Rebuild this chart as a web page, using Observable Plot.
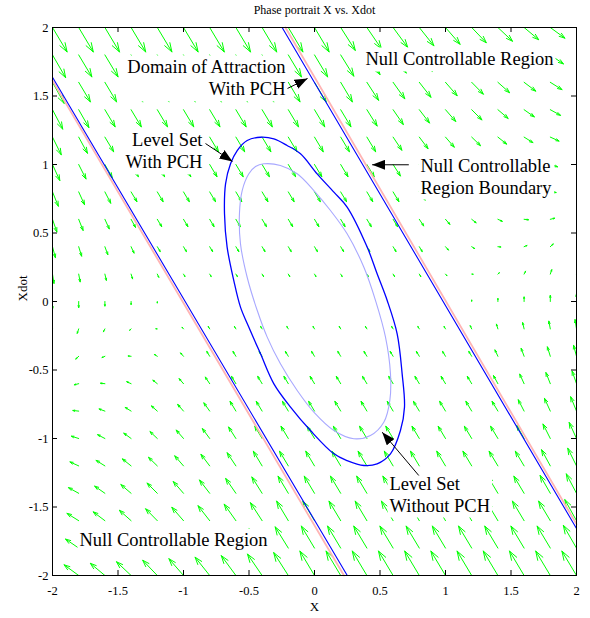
<!DOCTYPE html>
<html>
<head>
<meta charset="utf-8">
<script src="https://cdn.jsdelivr.net/npm/d3@7"></script>
<script src="https://cdn.jsdelivr.net/npm/@observablehq/plot@0.6"></script>
<style>
  html, body { margin: 0; padding: 0; background: #fff; }
  #chart svg { display: block; }
  #chart svg text { font-family: 'Liberation Serif', 'Times New Roman', serif; }
</style>
</head>
<body>
<div id="chart"></div>
<script>
// ---------- data ----------
const titleText = "Phase portrait X vs. Xdot";
const xLabel = "X";
const yLabel = "Xdot";
const axisTicks = [-2, -1.5, -1, -0.5, 0, 0.5, 1, 1.5, 2];

// quiver grid (x positions, Xdot rows from top to bottom)
const gridX = [-2, -1.8, -1.6, -1.4, -1.2, -1, -0.8, -0.6, -0.4, -0.2, 0, 0.2, 0.4, 0.6, 0.8, 1, 1.2, 1.4, 1.6, 1.8, 2];
const gridXdot = [2, 1.8, 1.6, 1.4, 1.2, 1, 0.8, 0.6, 0.4, 0.2, 0, -0.2, -0.4, -0.6, -0.8, -1, -1.2, -1.4, -1.6, -1.8, -2];
// vertical component (Xddot) of each arrow, one row per Xdot value
const xddotRows = [
  [-3.2,-3.2,-3.2,-3.2,-3.2,-3.2,-3.2,-3.2,-3.2,-3.2,-3.2,-3.0,-2.8,-2.6,-2.4,-2.2,-2.0,-1.8,-1.6,-1.4,-1.2],
  [-2.98,-2.88,-2.88,-2.88,-2.88,-2.88,-2.88,-2.88,-2.88,-2.88,-2.88,-2.78,-2.58,-2.38,-2.18,-1.98,-1.78,-1.58,-1.38,-1.18,-0.98],
  [-2.76,-2.56,-2.56,-2.56,-2.56,-2.56,-2.56,-2.56,-2.56,-2.56,-2.56,-2.56,-2.36,-2.16,-1.96,-1.76,-1.56,-1.36,-1.16,-0.96,-0.76],
  [-2.54,-2.34,-2.24,-2.24,-2.24,-2.24,-2.24,-2.24,-2.24,-2.24,-2.24,-2.24,-2.14,-1.94,-1.74,-1.54,-1.34,-1.14,-0.94,-0.74,-0.54],
  [-2.32,-2.12,-1.92,-1.92,-1.92,-1.92,-1.92,-1.92,-1.92,-1.92,-1.92,-1.92,-1.92,-1.72,-1.52,-1.32,-1.12,-0.92,-0.72,-0.52,-0.32],
  [-2.1,-1.9,-1.7,-1.6,-1.6,-1.6,-1.6,-1.6,-1.6,-1.6,-1.6,-1.6,-1.6,-1.5,-1.3,-1.1,-0.9,-0.7,-0.5,-0.3,-0.1],
  [-1.88,-1.68,-1.48,-1.28,-1.28,-1.28,-1.28,-1.28,-1.28,-1.28,-1.28,-1.28,-1.28,-1.28,-1.08,-0.88,-0.68,-0.48,-0.28,-0.08,0.12],
  [-1.66,-1.46,-1.26,-1.06,-0.96,-0.96,-0.96,-0.96,-0.96,-0.96,-0.96,-0.96,-0.96,-0.96,-0.86,-0.66,-0.46,-0.26,-0.06,0.14,0.34],
  [-1.44,-1.24,-1.04,-0.84,-0.64,-0.64,-0.64,-0.64,-0.64,-0.64,-0.64,-0.64,-0.64,-0.64,-0.64,-0.44,-0.24,-0.04,0.16,0.36,0.56],
  [-1.22,-1.02,-0.82,-0.62,-0.42,-0.32,-0.32,-0.32,-0.32,-0.32,-0.32,-0.32,-0.32,-0.32,-0.32,-0.22,-0.02,0.18,0.38,0.58,0.78],
  [-1,-0.8,-0.6,-0.4,-0.2,0,0,0,0,0,0,0,0,0,0,0,0.2,0.4,0.6,0.8,1],
  [-0.78,-0.58,-0.38,-0.18,0.02,0.22,0.32,0.32,0.32,0.32,0.32,0.32,0.32,0.32,0.32,0.32,0.42,0.62,0.82,1.02,1.22],
  [-0.56,-0.36,-0.16,0.04,0.24,0.44,0.64,0.64,0.64,0.64,0.64,0.64,0.64,0.64,0.64,0.64,0.64,0.84,1.04,1.24,1.44],
  [-0.34,-0.14,0.06,0.26,0.46,0.66,0.86,0.96,0.96,0.96,0.96,0.96,0.96,0.96,0.96,0.96,0.96,1.06,1.26,1.46,1.66],
  [-0.12,0.08,0.28,0.48,0.68,0.88,1.08,1.28,1.28,1.28,1.28,1.28,1.28,1.28,1.28,1.28,1.28,1.28,1.48,1.68,1.88],
  [0.1,0.3,0.5,0.7,0.9,1.1,1.3,1.5,1.6,1.6,1.6,1.6,1.6,1.6,1.6,1.6,1.6,1.6,1.7,1.9,2.1],
  [0.32,0.52,0.72,0.92,1.12,1.32,1.52,1.72,1.92,1.92,1.92,1.92,1.92,1.92,1.92,1.92,1.92,1.92,1.92,2.12,2.32],
  [0.54,0.74,0.94,1.14,1.34,1.54,1.74,1.94,2.14,2.24,2.24,2.24,2.24,2.24,2.24,2.24,2.24,2.24,2.24,2.34,2.54],
  [0.76,0.96,1.16,1.36,1.56,1.76,1.96,2.16,2.36,2.56,2.56,2.56,2.56,2.56,2.56,2.56,2.56,2.56,2.56,2.56,2.76],
  [0.98,1.18,1.38,1.58,1.78,1.98,2.18,2.38,2.58,2.78,2.88,2.88,2.88,2.88,2.88,2.88,2.88,2.88,2.88,2.88,2.98],
  [1.2,1.4,1.6,1.8,2.0,2.2,2.4,2.6,2.8,3.0,3.2,3.2,3.2,3.2,3.2,3.2,3.2,3.2,3.2,3.2,3.2]
];
const quiverScale = 0.0557; // quiver auto-scale factor

// null controllable region boundaries
const upperBoundX = [-0.247, 2];
const upperBoundY = [2, -1.657];
const lowerBoundX = [-2, 0.25];
const lowerBoundY = [1.637, -2];
const upperRefX = [-0.222, 2];
const upperRefY = [2, -1.625];
const lowerRefX = [-2, 0.225];
const lowerRefY = [1.612, -2];

// level set with PCH (outer)
const outerX = [-0.412,-0.310,-0.209,-0.107,0.020,0.148,0.249,0.402,0.478,0.555,0.631,0.669,0.687,0.656,0.580,0.478,0.377,0.249,0.148,-0.031,-0.183,-0.310,-0.412,-0.501,-0.565,-0.616,-0.667,-0.687,-0.679,-0.641,-0.590,-0.514];
const outerY = [1.199,1.187,1.139,1.078,0.932,0.798,0.689,0.397,0.202,0.007,-0.236,-0.528,-0.771,-0.942,-1.112,-1.185,-1.197,-1.161,-1.112,-0.942,-0.771,-0.601,-0.382,-0.188,-0.041,0.153,0.397,0.640,0.859,1.005,1.102,1.175];
// level set without PCH (inner)
const innerX = [-0.387,-0.260,-0.132,-0.005,0.122,0.249,0.377,0.466,0.542,0.580,0.575,0.529,0.427,0.300,0.148,-0.005,-0.132,-0.260,-0.361,-0.437,-0.514,-0.565,-0.573,-0.552,-0.501,-0.450];
const innerY = [1.005,0.993,0.932,0.810,0.664,0.494,0.250,0.007,-0.260,-0.528,-0.723,-0.881,-0.978,-1.002,-0.942,-0.808,-0.650,-0.455,-0.260,-0.066,0.177,0.421,0.640,0.810,0.932,0.985];

// annotations
const annotText = ["Domain of Attraction\nWith PCH", "Level Set\nWith PCH", "Null Controllable Region", "Null Controllable\nRegion Boundary", "Level Set\nWithout PCH", "Null Controllable Region"];
const annotX = [-0.221, -0.855, 0.389, 0.809, 0.573, -1.794];
const annotY = [1.504, 0.971, 1.723, 0.788, -1.533, -1.788];
const annotAlign = ["end", "end", "start", "start", "start", "start"];
const pointerX1 = [-0.206, -0.832, 0.720, 0.796];
const pointerY1 = [1.555, 1.153, 0.998, -1.270];
const pointerX2 = [-0.053, -0.626, 0.440, 0.517];
const pointerY2 = [1.628, 1.022, 0.998, -0.954];

// ---------- build tables ----------
const quiver = [];
gridXdot.forEach((xd, r) => gridX.forEach((x, c) => {
  const v = xddotRows[r][c];
  quiver.push({x, y: xd, x2: x + quiverScale * xd, y2: xd + quiverScale * v});
}));
const pts = (X, Y) => X.map((x, i) => ({x, y: Y[i]}));
const outer = pts(outerX, outerY);
const inner = pts(innerX, innerY);
const annots = annotText.map((t, i) => ({text: t, x: annotX[i], y: annotY[i], align: annotAlign[i]}));
const pointers = pointerX1.map((x1, i) => ({x1, y1: pointerY1[i], x2: pointerX2[i], y2: pointerY2[i]}));

const W = 590, H = 618;
const mTop = 27, mRight = 14, mBottom = 43, mLeft = 52;
const frameW = W - mLeft - mRight, frameH = H - mTop - mBottom;
const tickLen = 5;
const serif = "'Liberation Serif', 'Times New Roman', serif";

const annotStyle = {x: "x", y: "y", text: "text", fontSize: 18.5, fontFamily: serif, lineAnchor: "bottom", lineHeight: 1.19, fill: "#000"};

const svg = Plot.plot({
  width: W, height: H,
  marginTop: mTop, marginRight: mRight, marginBottom: mBottom, marginLeft: mLeft,
  x: {domain: [-2, 2], label: null},
  y: {domain: [-2, 2], label: null},
  style: {fontFamily: serif, fontSize: "12.5px", background: "#fff", color: "#000", overflow: "visible"},
  marks: [
    Plot.arrow(quiver, {x1: "x", y1: "y", x2: "x2", y2: "y2", stroke: "#00ff00", strokeWidth: 1, headAngle: 37, headLength: 60, clip: true}),
    Plot.line(pts(upperRefX, upperRefY), {x: "x", y: "y", stroke: "#ffb4b4", strokeWidth: 1.8}),
    Plot.line(pts(lowerRefX, lowerRefY), {x: "x", y: "y", stroke: "#ffb4b4", strokeWidth: 1.8}),
    Plot.line(pts(upperBoundX, upperBoundY), {x: "x", y: "y", stroke: "#0000ff", strokeWidth: 1.1}),
    Plot.line(pts(lowerBoundX, lowerBoundY), {x: "x", y: "y", stroke: "#0000ff", strokeWidth: 1.1}),
    Plot.line(inner, {x: "x", y: "y", curve: "catmull-rom-closed", stroke: "#a8a8ff", strokeWidth: 1.1}),
    Plot.line(outer, {x: "x", y: "y", curve: "catmull-rom-closed", stroke: "#0000ff", strokeWidth: 1.3}),
    Plot.frame({stroke: "#000", strokeWidth: 1}),
    Plot.tickX(axisTicks, {x: d => d, insetTop: frameH - tickLen, stroke: "#000"}),
    Plot.tickX(axisTicks, {x: d => d, insetBottom: frameH - tickLen, stroke: "#000"}),
    Plot.tickY(axisTicks, {y: d => d, insetRight: frameW - tickLen, stroke: "#000"}),
    Plot.tickY(axisTicks, {y: d => d, insetLeft: frameW - tickLen, stroke: "#000"}),
    Plot.axisX(axisTicks, {tickSize: 0, tickPadding: 11, tickFormat: d => String(d), fontSize: 12.5, fontFamily: serif, fontVariant: "normal"}),
    Plot.axisY(axisTicks, {tickSize: 0, tickPadding: 4, tickFormat: d => String(d), fontSize: 12.5, fontFamily: serif, fontVariant: "normal"}),
    Plot.text([titleText], {text: d => d, frameAnchor: "top", dy: -14, lineAnchor: "bottom", fontSize: 12, fontFamily: serif}),
    Plot.text([xLabel], {text: d => d, frameAnchor: "bottom", dy: 35, fontSize: 13, fontFamily: serif}),
    Plot.text([yLabel], {text: d => d, frameAnchor: "left", dx: -30, rotate: -90, fontSize: 13, fontFamily: serif}),
    Plot.text(annots.filter(d => d.align === "end"), {...annotStyle, textAnchor: "end"}),
    Plot.text(annots.filter(d => d.align === "start"), {...annotStyle, textAnchor: "start"}),
    Plot.link(pointers, {x1: "x1", y1: "y1", x2: "x2", y2: "y2", stroke: "#000", strokeWidth: 1})
  ]
});
document.getElementById("chart").append(svg);

// white label boxes (like MATLAB text background)
const labelSet = new Set(annotText.map(t => t.replace(/\n/g, "")));
const pad = 2;
svg.querySelectorAll("text").forEach(t => {
  if (!labelSet.has(t.textContent)) return;
  const b = t.getBBox();
  const rect = document.createElementNS("http://www.w3.org/2000/svg", "rect");
  rect.setAttribute("x", b.x - pad);
  rect.setAttribute("y", b.y - pad);
  rect.setAttribute("width", b.width + 2 * pad);
  rect.setAttribute("height", b.height + 2 * pad);
  rect.setAttribute("fill", "#fff");
  rect.setAttribute("stroke", "none");
  const tr = t.getAttribute("transform");
  if (tr) rect.setAttribute("transform", tr);
  t.parentNode.insertBefore(rect, t);
});

// filled arrowheads for annotation pointers
const sel = d3.select(svg);
const defs = sel.insert("defs", ":first-child");
defs.append("marker")
  .attr("id", "annot-head")
  .attr("viewBox", "0 -5 13 10")
  .attr("refX", 13).attr("refY", 0)
  .attr("markerWidth", 13).attr("markerHeight", 10)
  .attr("markerUnits", "userSpaceOnUse")
  .attr("orient", "auto")
  .append("path").attr("d", "M0,-5L13,0L0,5Z").attr("fill", "#000");
sel.selectAll('g[aria-label="link"] path').attr("marker-end", "url(#annot-head)");
</script>
</body>
</html>
